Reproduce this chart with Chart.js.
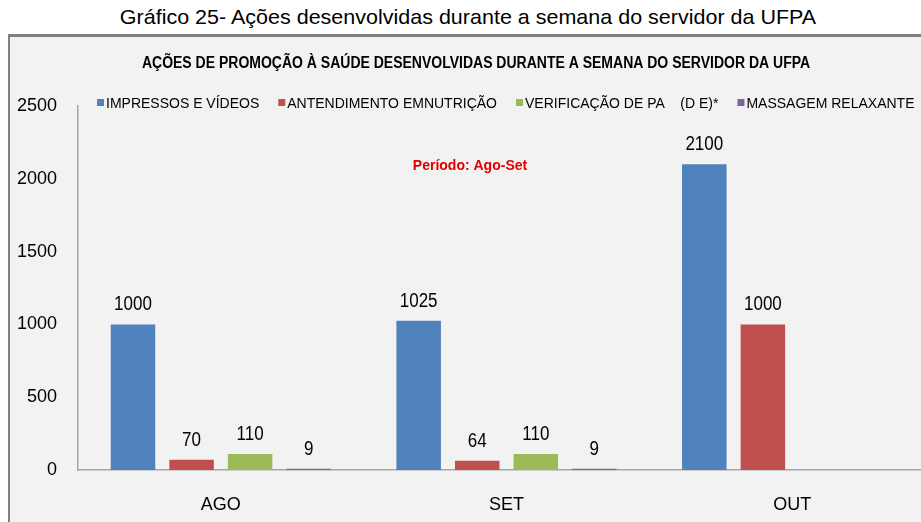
<!DOCTYPE html>
<html>
<head>
<meta charset="utf-8">
<script src="https://cdn.jsdelivr.net/npm/chart.js@4.4.1/dist/chart.umd.min.js"></script>
<style>
  html, body { margin: 0; padding: 0; background: #fff; width: 921px; height: 522px; overflow: hidden; }
  #caption {
    position: absolute; left: 0; top: 5px; width: 936px; text-align: center;
    font-family: 'Liberation Sans', Arial, sans-serif; font-size: 21.5px; color: #000;
    transform: scaleY(0.95);
  }
  #box {
    position: absolute; left: 8px; top: 34px; width: 940px; height: 500px;
    border-left: 2px solid #808080; border-top: 3px solid #808080;
    background: #f2f2f2; overflow: hidden;
  }
  #wrap { position: relative; width: 925px; height: 485px; }
</style>
</head>
<body>
<div id="caption">Gráfico 25- Ações desenvolvidas durante a semana do servidor da UFPA</div>
<div id="box"><div id="wrap"><canvas id="chart"></canvas></div></div>
<script>
// ── Data ─────────────────────────────────────
const months = ['AGO', 'SET', 'OUT'];
const impressos = [1000, 1025, 2100];
const nutricao = [70, 64, 1000];
const pressao = [110, 110, null];
const massagem = [9, 9, null];
const yTicks = [0, 500, 1000, 1500, 2000, 2500];

const seriesLabels = ['IMPRESSOS E VÍDEOS', 'ANTENDIMENTO EMNUTRIÇÃO', 'VERIFICAÇÃO DE PA    (D E)*', 'MASSAGEM RELAXANTE'];
const seriesColors = ['#4f81bd', '#c0504d', '#9bbb59', '#8064a2'];

const SANS = "'Liberation Sans', Arial, sans-serif";

// narrow-looking text: regular Arial squeezed horizontally
function narrowText(ctx, txt, x, y, sx) {
  ctx.save();
  ctx.translate(x, y);
  ctx.scale(sx, 1);
  ctx.fillText(txt, 0, 0);
  ctx.restore();
}

// ── Plugins ──────────────────────────────────
const decor = {
  id: 'decor',
  afterDatasetsDraw(chart) {
    const ctx = chart.ctx;
    ctx.save();

    // value labels over bars
    ctx.fillStyle = '#000';
    ctx.font = '20px ' + SANS;
    ctx.textAlign = 'center';
    ctx.textBaseline = 'alphabetic';
    chart.data.datasets.forEach((ds, i) => {
      chart.getDatasetMeta(i).data.forEach((bar, j) => {
        if (ds.data[j] == null) return;
        narrowText(ctx, String(ds.data[j]), bar.x, bar.y - 14, 0.85);
      });
    });

    // inner title
    ctx.font = 'bold 16px ' + SANS;
    narrowText(ctx, 'AÇÕES DE PROMOÇÃO À SAÚDE DESENVOLVIDAS DURANTE A SEMANA DO SERVIDOR DA UFPA', 466, 31, 0.875);

    // period note
    ctx.fillStyle = '#e00000';
    ctx.font = 'bold 14px ' + SANS;
    ctx.fillText('Período: Ago-Set', 460, 133);

    // legend
    ctx.font = '14px ' + SANS;
    ctx.textAlign = 'left';
    let x = 87;
    seriesLabels.forEach((lab, i) => {
      ctx.fillStyle = seriesColors[i];
      ctx.fillRect(x, 62, 7, 7);
      ctx.fillStyle = '#000';
      ctx.fillText(lab, x + 9, 71);
      x += 9 + ctx.measureText(lab).width + 19;
    });
    ctx.restore();
  }
};

// ── Chart ────────────────────────────────────
new Chart(document.getElementById('chart'), {
  type: 'bar',
  data: {
    labels: months,
    datasets: [impressos, nutricao, pressao, massagem].map((d, i) => ({
      label: seriesLabels[i],
      data: d,
      backgroundColor: seriesColors[i],
      categoryPercentage: 0.82,
      barPercentage: 0.76
    }))
  },
  options: {
    responsive: true, maintainAspectRatio: false, animation: false,
    layout: { padding: { top: 69, right: 0, bottom: 0, left: 0 } },
    plugins: { legend: { display: false }, tooltip: { enabled: false } },
    scales: {
      x: {
        grid: { display: false, drawTicks: false },
        border: { display: true, color: '#a6a6a6', width: 1.5 },
        ticks: { color: '#000', font: { family: SANS, size: 18 }, padding: 24 },
        afterFit: s => { s.height = 52; }
      },
      y: {
        min: 0, max: 2500,
        afterBuildTicks: s => { s.ticks = yTicks.map(v => ({ value: v })); },
        grid: { display: false, drawTicks: false },
        border: { display: true, color: '#a6a6a6', width: 1.5 },
        ticks: { color: '#000', font: { family: SANS, size: 18 }, padding: 21, callback: v => String(v) },
        afterFit: s => { s.width = 68; }
      }
    }
  },
  plugins: [decor]
});
</script>
</body>
</html>
